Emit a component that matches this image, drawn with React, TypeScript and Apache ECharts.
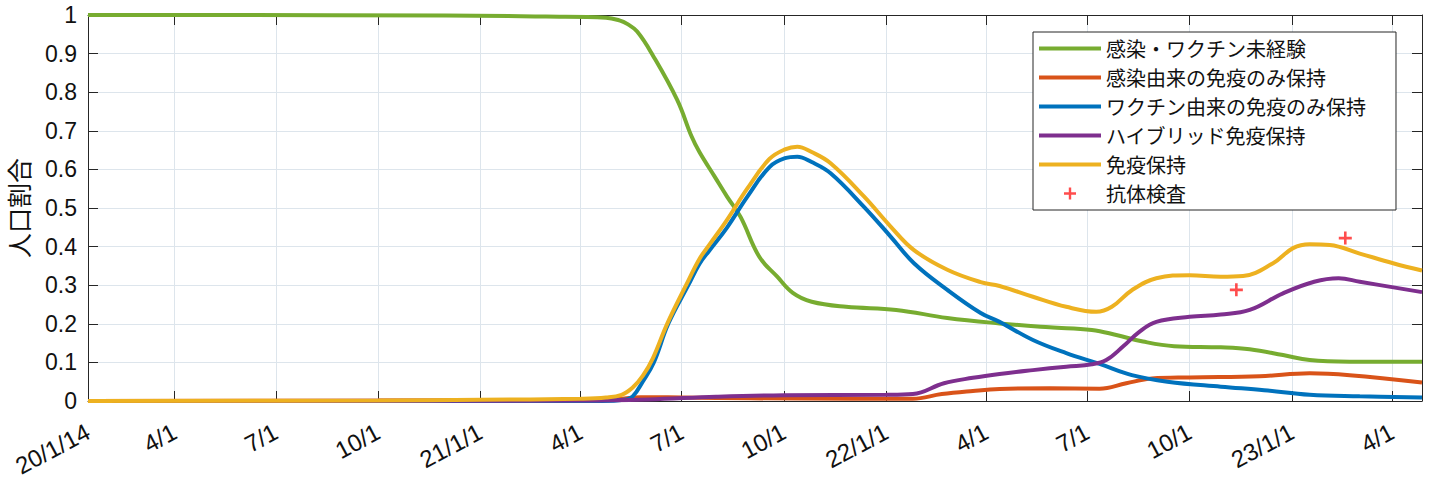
import React, { useEffect, useRef } from "react";
import * as echarts from "echarts";

// ---- axis ----
const START_DATE = "2020-01-14";
const END_DATE = "2023-04-28";
const tickDates = [
  "2020-01-14", "2020-04-01", "2020-07-01", "2020-10-01",
  "2021-01-01", "2021-04-01", "2021-07-01", "2021-10-01",
  "2022-01-01", "2022-04-01", "2022-07-01", "2022-10-01",
  "2023-01-01", "2023-04-01",
];
const tickLabels = [
  "20/1/14", "4/1", "7/1", "10/1",
  "21/1/1", "4/1", "7/1", "10/1",
  "22/1/1", "4/1", "7/1", "10/1",
  "23/1/1", "4/1",
];

const seriesNames = [
  "感染・ワクチン未経験",
  "感染由来の免疫のみ保持",
  "ワクチン由来の免疫のみ保持",
  "ハイブリッド免疫保持",
  "免疫保持",
  "抗体検査",
];

// ---- data (date, population share) ----
const naive: [string, number][] = [
  ["2020-01-14", 1.0], ["2020-12-01", 0.999], ["2021-03-01", 0.996], ["2021-04-24", 0.993],
  ["2021-05-06", 0.986], ["2021-05-13", 0.977], ["2021-05-22", 0.957], ["2021-06-05", 0.896],
  ["2021-06-27", 0.78], ["2021-07-10", 0.685], ["2021-07-17", 0.645], ["2021-07-31", 0.58],
  ["2021-08-11", 0.529], ["2021-08-23", 0.477], ["2021-09-09", 0.373], ["2021-09-25", 0.322],
  ["2021-10-09", 0.28], ["2021-10-26", 0.257], ["2021-11-26", 0.244], ["2022-01-10", 0.236],
  ["2022-02-25", 0.215], ["2022-04-13", 0.201], ["2022-05-28", 0.191], ["2022-07-05", 0.184],
  ["2022-07-27", 0.171], ["2022-08-20", 0.154], ["2022-09-17", 0.142], ["2022-10-29", 0.139],
  ["2022-11-24", 0.134], ["2022-12-24", 0.119], ["2023-01-17", 0.106], ["2023-02-22", 0.102],
  ["2023-04-28", 0.102],
];

const infectionOnly: [string, number][] = [
  ["2020-01-14", 0], ["2020-10-01", 0.001], ["2021-01-01", 0.002], ["2021-05-01", 0.004],
  ["2021-05-25", 0.01], ["2021-07-01", 0.009], ["2021-09-01", 0.007], ["2021-12-01", 0.006],
  ["2022-01-25", 0.006], ["2022-02-20", 0.018], ["2022-03-20", 0.026], ["2022-04-13", 0.031],
  ["2022-05-28", 0.033], ["2022-07-12", 0.032], ["2022-08-05", 0.046], ["2022-08-28", 0.058],
  ["2022-10-01", 0.061], ["2022-12-03", 0.064], ["2023-01-17", 0.072], ["2023-02-22", 0.067],
  ["2023-04-28", 0.048],
];

const vaccineOnly: [string, number][] = [
  ["2020-01-14", 0], ["2021-04-20", 0], ["2021-05-10", 0.003], ["2021-05-18", 0.012],
  ["2021-05-27", 0.05], ["2021-06-06", 0.1], ["2021-06-19", 0.2], ["2021-07-07", 0.3],
  ["2021-07-17", 0.355], ["2021-07-26", 0.39], ["2021-08-11", 0.45], ["2021-08-29", 0.529],
  ["2021-09-18", 0.606], ["2021-10-02", 0.629], ["2021-10-13", 0.633], ["2021-10-26", 0.619],
  ["2021-11-12", 0.59], ["2021-12-12", 0.503], ["2022-01-05", 0.426], ["2022-01-26", 0.357],
  ["2022-02-25", 0.288], ["2022-03-27", 0.228], ["2022-04-13", 0.205], ["2022-05-13", 0.158],
  ["2022-06-12", 0.124], ["2022-07-12", 0.096], ["2022-08-10", 0.067], ["2022-09-11", 0.05],
  ["2022-10-29", 0.037], ["2022-12-07", 0.028], ["2023-01-17", 0.016], ["2023-03-03", 0.012],
  ["2023-04-28", 0.009],
];

const hybrid: [string, number][] = [
  ["2020-01-14", 0], ["2021-04-01", 0.001], ["2021-06-01", 0.004], ["2021-08-01", 0.011],
  ["2021-10-01", 0.015], ["2022-01-01", 0.016], ["2022-01-25", 0.018], ["2022-02-22", 0.046],
  ["2022-03-20", 0.06], ["2022-04-13", 0.07], ["2022-05-13", 0.08], ["2022-06-12", 0.089],
  ["2022-07-05", 0.095], ["2022-07-18", 0.106], ["2022-08-02", 0.141], ["2022-08-17", 0.18],
  ["2022-09-01", 0.205], ["2022-10-01", 0.218], ["2022-10-29", 0.224], ["2022-11-24", 0.236],
  ["2022-12-24", 0.279], ["2023-01-21", 0.309], ["2023-02-12", 0.318], ["2023-03-03", 0.309],
  ["2023-04-28", 0.282],
];

const immune: [string, number][] = [
  ["2020-01-14", 0], ["2020-10-01", 0.001], ["2021-01-01", 0.003], ["2021-04-01", 0.006],
  ["2021-04-24", 0.009], ["2021-05-08", 0.016], ["2021-05-18", 0.035], ["2021-05-27", 0.065],
  ["2021-06-05", 0.11], ["2021-06-18", 0.2], ["2021-07-05", 0.3], ["2021-07-17", 0.368],
  ["2021-07-26", 0.405], ["2021-08-11", 0.47], ["2021-08-29", 0.55], ["2021-09-18", 0.627],
  ["2021-10-02", 0.652], ["2021-10-13", 0.659], ["2021-10-26", 0.645], ["2021-11-12", 0.616],
  ["2021-12-12", 0.53], ["2022-01-05", 0.452], ["2022-01-26", 0.391], ["2022-02-25", 0.34],
  ["2022-03-27", 0.308], ["2022-04-13", 0.298], ["2022-05-13", 0.27], ["2022-06-12", 0.244],
  ["2022-07-09", 0.231], ["2022-07-23", 0.244], ["2022-08-10", 0.287], ["2022-09-01", 0.318],
  ["2022-10-01", 0.326], ["2022-10-29", 0.322], ["2022-11-18", 0.324], ["2022-12-15", 0.357],
  ["2023-01-02", 0.396], ["2023-01-17", 0.406], ["2023-02-04", 0.404], ["2023-03-03", 0.382],
  ["2023-04-02", 0.357], ["2023-04-28", 0.338],
];

const antibody: [string, number][] = [
  ["2022-11-12", 0.288],
  ["2023-02-18", 0.422],
];

const colors = ["#77AC30", "#D95319", "#0072BD", "#7E2F8E", "#EDB120", "#FF2020"];

const FONT = "'Liberation Sans', 'Noto Sans CJK JP', sans-serif";
const JP_FONT = "'Noto Sans CJK JP', sans-serif";

// days since START_DATE (UTC based, so no DST effects)
function dayIndex(s: string): number {
  const [y, m, d] = s.split("-").map(Number);
  const [y0, m0, d0] = START_DATE.split("-").map(Number);
  return Math.round((Date.UTC(y, m - 1, d) - Date.UTC(y0, m0 - 1, d0)) / 86400000);
}

const PLUS =
  "path://M4,0 L6,0 L6,4 L10,4 L10,6 L6,6 L6,10 L4,10 L4,6 L0,6 L0,4 L4,4 Z";
const LINE_ICON = "path://M0,0 L62,0 L62,4 L0,4 Z";

export default function App() {
  const ref = useRef<HTMLDivElement>(null);

  useEffect(() => {
    document.body.style.margin = "0";
    document.body.style.background = "#ffffff";
    if (!ref.current) return;
    const chart = echarts.init(ref.current, null, { renderer: "svg" });

    const tickDays = tickDates.map(dayIndex);
    const labelFor = (v: number) => {
      const i = tickDays.indexOf(Math.round(v));
      return i >= 0 ? tickLabels[i] : "";
    };

    const lineSeries = (name: string, data: [string, number][], color: string) => ({
      name,
      type: "line",
      data: data.map(([d, v]) => [dayIndex(d), v]),
      showSymbol: false,
      symbol: "none",
      smooth: 0.4,
      lineStyle: { color, width: 4 },
      itemStyle: { color },
      xAxisIndex: 0,
      yAxisIndex: 0,
    });

    const axisLineColor = "#262626";
    const gridColor = "#dde5ec";
    const xMax = dayIndex(END_DATE);

    chart.setOption({
      animation: false,
      backgroundColor: "#ffffff",
      textStyle: { fontFamily: FONT },
      grid: { left: 88, right: 7, top: 15, bottom: 81, containLabel: false, outerBoundsMode: "none" },
      legend: {
        orient: "vertical",
        left: 1033,
        top: 32,
        itemWidth: 62,
        itemHeight: 12,
        itemGap: 0,
        padding: [2, 30, 2, 6],
        borderColor: axisLineColor,
        borderWidth: 1,
        backgroundColor: "#ffffff",
        textStyle: { fontSize: 20, color: "#111", fontFamily: JP_FONT, lineHeight: 29 },
        data: seriesNames.map((name, i) => ({ name, icon: i < 5 ? LINE_ICON : PLUS })),
      },
      xAxis: [
        {
          type: "value",
          min: 0,
          max: xMax,
          position: "bottom",
          axisLine: { show: true, onZero: false, lineStyle: { color: axisLineColor, width: 1 } },
          axisTick: { show: true, inside: true, length: 10, customValues: tickDays, lineStyle: { color: axisLineColor } },
          axisLabel: {
            show: true,
            customValues: tickDays,
            formatter: (v: number) => labelFor(v),
            rotate: 28,
            margin: 29,
            fontSize: 24,
            color: "#111",
            fontFamily: FONT,
          },
          splitLine: { show: true, lineStyle: { color: gridColor, width: 1 } },
        },
        {
          type: "value",
          min: 0,
          max: xMax,
          position: "top",
          axisLine: { show: true, onZero: false, lineStyle: { color: axisLineColor, width: 1 } },
          axisTick: { show: true, inside: true, length: 10, customValues: tickDays, lineStyle: { color: axisLineColor } },
          axisLabel: { show: false },
          splitLine: { show: false },
        },
      ],
      yAxis: [
        {
          type: "value",
          min: 0,
          max: 1,
          interval: 0.1,
          position: "left",
          name: "人口割合",
          nameLocation: "middle",
          nameRotate: 90,
          nameGap: 58,
          nameTextStyle: { fontSize: 25, color: "#111", fontFamily: JP_FONT },
          axisLine: { show: true, onZero: false, lineStyle: { color: axisLineColor, width: 1 } },
          axisTick: { show: true, inside: true, length: 10, lineStyle: { color: axisLineColor } },
          axisLabel: {
            fontSize: 23,
            color: "#111",
            margin: 11,
            fontFamily: FONT,
            formatter: (v: number) => String(Math.round(v * 10) / 10),
          },
          splitLine: { show: true, lineStyle: { color: gridColor, width: 1 } },
        },
        {
          type: "value",
          min: 0,
          max: 1,
          interval: 0.1,
          position: "right",
          axisLine: { show: true, onZero: false, lineStyle: { color: axisLineColor, width: 1 } },
          axisTick: { show: true, inside: true, length: 10, lineStyle: { color: axisLineColor } },
          axisLabel: { show: false },
          splitLine: { show: false },
        },
      ],
      series: [
        lineSeries(seriesNames[0], naive, colors[0]),
        lineSeries(seriesNames[1], infectionOnly, colors[1]),
        lineSeries(seriesNames[2], vaccineOnly, colors[2]),
        lineSeries(seriesNames[3], hybrid, colors[3]),
        lineSeries(seriesNames[4], immune, colors[4]),
        {
          name: seriesNames[5],
          type: "scatter",
          data: antibody.map(([d, v]) => [dayIndex(d), v]),
          symbol: PLUS,
          symbolSize: 13,
          itemStyle: { color: colors[5] },
          xAxisIndex: 0,
          yAxisIndex: 0,
          z: 5,
        },
      ],
    });

    return () => chart.dispose();
  }, []);

  return <div ref={ref} style={{ width: 1429, height: 482 }} />;
}
